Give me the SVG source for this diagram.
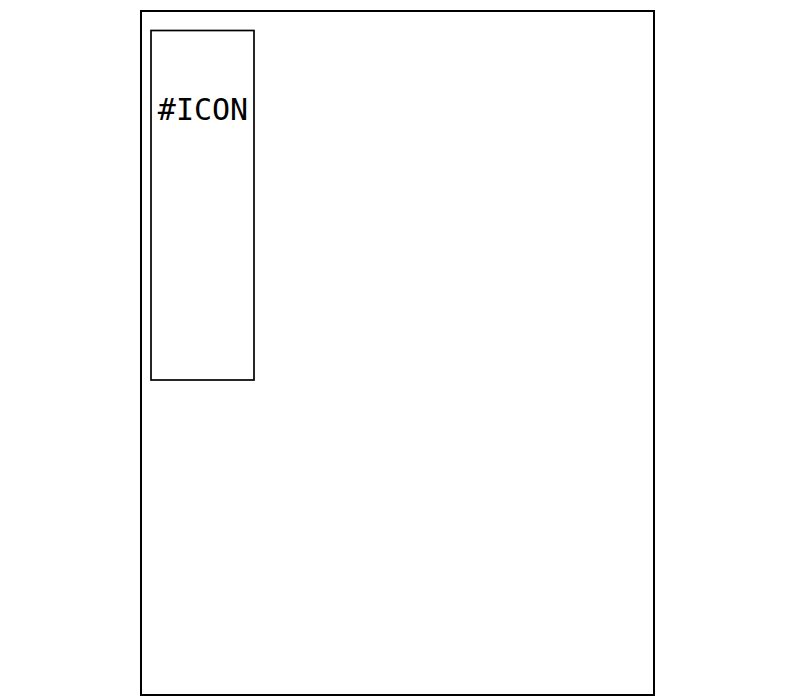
<svg xmlns="http://www.w3.org/2000/svg" width="800" height="700" viewBox="0 0 800 700">
<style>
.box{fill:none;stroke:#000}
.lbl{font-family:"DejaVu Sans Mono",monospace;font-size:30px;fill:#000;text-anchor:middle}
</style>
<rect width="800" height="700" fill="#fff"/>
<g id="frame"><rect class="box" x="141" y="11" width="513" height="684" stroke-width="2"/></g>
<g id="icon"><rect class="box" x="151" y="30.5" width="103" height="349.5" stroke-width="1.7"/>
<text class="lbl" x="203" y="120">#ICON</text></g>
<g id="connectors"/>
</svg>
